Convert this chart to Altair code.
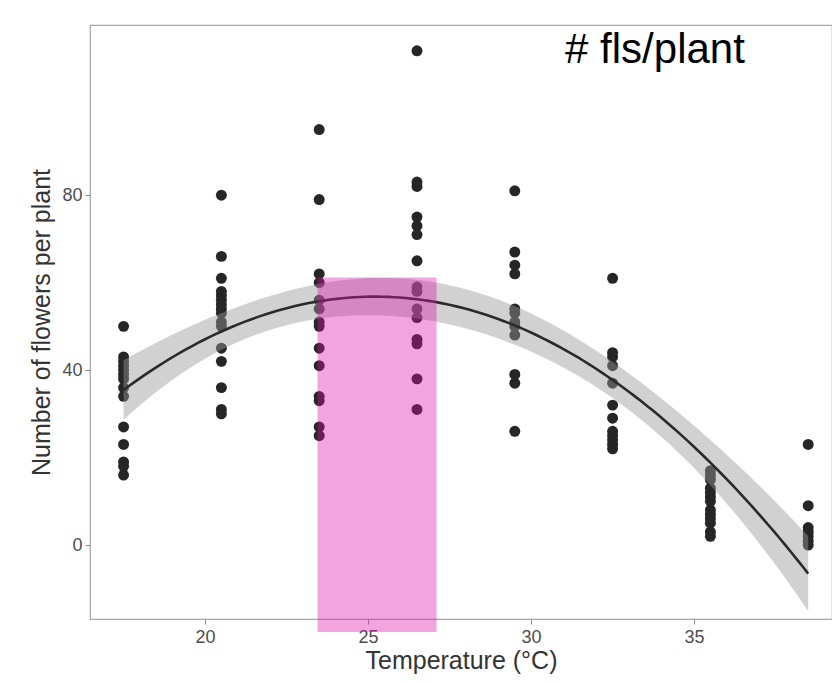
import altair as alt
import numpy as np
import pandas as pd

# ---- data ----
temps = [17.5, 20.5, 23.5, 26.5, 29.5, 32.5, 35.5, 38.5]
flowers = [
    [50, 43, 42, 41, 40, 39, 38, 36, 34, 27, 23, 19, 18, 16],
    [80, 66, 61, 58, 57, 56, 55, 54, 53, 51, 50, 45, 42, 36, 31, 30],
    [95, 79, 62, 60, 56, 54, 51, 50, 45, 41, 34, 33, 27, 25],
    [113, 83, 82, 75, 73, 71, 65, 59, 58, 54, 52, 47, 46, 38, 31],
    [81, 67, 64, 62, 54, 53, 51, 50, 48, 39, 37, 26],
    [61, 44, 43, 41, 37, 32, 29, 26, 25, 24, 23, 22],
    [17, 16, 15, 13, 12, 11, 10, 8, 7, 6, 5, 3, 2],
    [23, 9, 4, 3, 2, 1, 0],
]
# highlighted temperature window
band_x = [23.45]
band_x2 = [27.1]
band_y = [61.2]
band_y2 = [-19.9]
label_text = ["# fls/plant"]
label_x = [33.8]
label_y = [113.0]

rows = [(t, v) for t, vs in zip(temps, flowers) for v in vs]
pts = pd.DataFrame(rows, columns=["temp", "flowers"])

# quadratic least-squares fit with 95% confidence band
X = np.column_stack([np.ones(len(pts)), pts["temp"], pts["temp"] ** 2])
yv = pts["flowers"].to_numpy(float)
beta, *_ = np.linalg.lstsq(X, yv, rcond=None)
resid = yv - X @ beta
dof = len(yv) - 3
s2 = resid @ resid / dof
cov = s2 * np.linalg.inv(X.T @ X)
xg = np.linspace(min(temps), max(temps), 120)
Xg = np.column_stack([np.ones_like(xg), xg, xg ** 2])
fit = Xg @ beta
se = np.sqrt(np.einsum("ij,jk,ik->i", Xg, cov, Xg))
tq = 1.984
fitdf = pd.DataFrame({"temp": xg, "fit": fit, "lo": fit - tq * se, "hi": fit + tq * se})

xscale = alt.Scale(domain=[16.47, 39.23], nice=False, zero=False)
yscale = alt.Scale(domain=[-16.9, 118.9], nice=False, zero=False)

font = "Liberation Sans, Arial, sans-serif"

xaxis = alt.Axis(values=[20, 25, 30, 35], title="Temperature (°C)", grid=False,
                 domain=False, tickColor="#8c8c8c", tickSize=5, labelFontSize=18,
                 labelColor="#4d4d4d", labelFont=font, labelPadding=4,
                 titleFont=font, titleFontSize=25, titleFontWeight="normal",
                 titleColor="#333333", titlePadding=2)
yaxis = alt.Axis(values=[0, 40, 80], title="Number of flowers per plant", grid=False,
                 domain=False, tickColor="#8c8c8c", tickSize=5, labelFontSize=18,
                 labelColor="#4d4d4d", labelFont=font, labelPadding=3,
                 titleFont=font, titleFontSize=25, titleFontWeight="normal",
                 titleColor="#333333", titlePadding=7)

points = alt.Chart(pts).mark_circle(size=120, color="#262626", opacity=1).encode(
    x=alt.X("temp:Q", scale=xscale, axis=xaxis),
    y=alt.Y("flowers:Q", scale=yscale, axis=yaxis),
)

ribbon = alt.Chart(fitdf).mark_area(color="#999999", opacity=0.45).encode(
    x="temp:Q", y="lo:Q", y2="hi:Q"
)

line = alt.Chart(fitdf).mark_line(color="#2a2a2a", strokeWidth=2.6).encode(
    x="temp:Q", y="fit:Q"
)

hl = pd.DataFrame({"x": band_x, "x2": band_x2, "y": band_y, "y2": band_y2})
rect = alt.Chart(hl).mark_rect(color="#dc10ac", opacity=0.38, clip=False).encode(
    x="x:Q", x2="x2:Q", y="y:Q", y2="y2:Q"
)

lab = pd.DataFrame({"t": label_text, "x": label_x, "y": label_y})
title = alt.Chart(lab).mark_text(font="Liberation Sans Narrow, Arial Narrow, sans-serif",
                                 fontSize=42, color="#000000", align="center",
                                 baseline="middle", dy=-1).encode(
    x="x:Q", y="y:Q", text="t:N"
)

chart = alt.layer(points, ribbon, line, rect, title).properties(
    width=742, height=594,
    autosize=alt.AutoSizeParams(type="none"),
    padding={"left": 82, "top": 17, "right": 0, "bottom": 56},
    background="white",
).configure_view(stroke="#a6a6a6", strokeWidth=1.2)

chart.save("out.html", embed_options={"renderer": "svg", "actions": False})
